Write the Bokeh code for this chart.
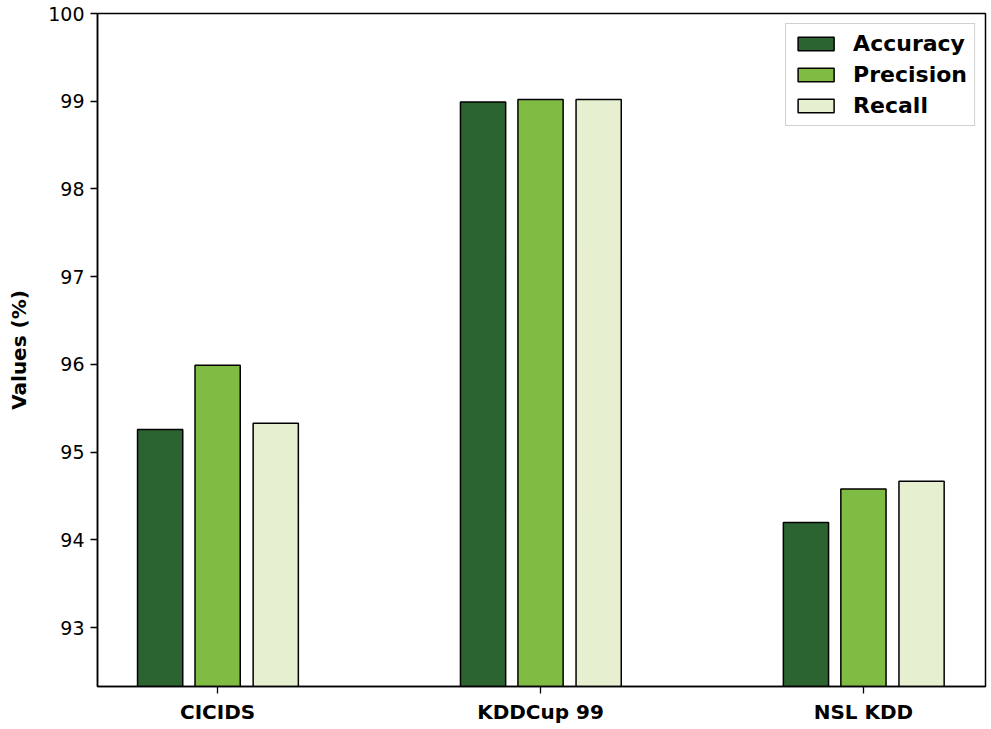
from bokeh.plotting import figure
from bokeh.models import ColumnDataSource, Range1d, FixedTicker, Legend, LegendItem
from bokeh.transform import dodge
from bokeh.embed import file_html
from bokeh.resources import INLINE

categories = ["CICIDS", "KDDCup 99", "NSL KDD"]
accuracy = [95.26, 98.99, 94.20]
precision = [95.99, 99.02, 94.58]
recall = [95.33, 99.02, 94.67]
series_names = ["Accuracy", "Precision", "Recall"]
colors = ["#2b6331", "#80bb44", "#e6f0d0"]
y_ticks = [93, 94, 95, 96, 97, 98, 99, 100]

xs = list(range(len(categories)))
source = ColumnDataSource(dict(x=xs, accuracy=accuracy, precision=precision, recall=recall))

p = figure(width=988, height=726, output_backend="svg", toolbar_location=None,
           x_range=Range1d(-0.372, 2.378), y_range=Range1d(92.33, 100.0),
           min_border_left=97, min_border_right=3, min_border_top=13, min_border_bottom=40)

offsets = [-0.178, 0.0, 0.18]
fields = ["accuracy", "precision", "recall"]
renderers = []
for f, off, c in zip(fields, offsets, colors):
    r = p.vbar(x=dodge("x", off, range=p.x_range), top=f, bottom=0, width=0.14,
               source=source, fill_color=c, line_color="black", line_width=1.5)
    renderers.append(r)

legend = Legend(items=[LegendItem(label=n, renderers=[r]) for n, r in zip(series_names, renderers)],
                location="top_right")
legend.label_text_font = "DejaVu Sans"
legend.label_text_font_style = "bold"
legend.label_text_font_size = "22px"
legend.label_text_color = "black"
legend.label_standoff = 15
legend.glyph_width = 45
legend.glyph_height = 17
legend.spacing = 6
legend.padding = 7
legend.margin = 10
legend.border_line_color = "#d0d0d0"
legend.border_line_width = 1
legend.border_line_alpha = 1
legend.background_fill_alpha = 1
p.add_layout(legend)

p.xgrid.visible = False
p.ygrid.visible = False
p.outline_line_color = "black"
p.outline_line_width = 1.5

p.xaxis.ticker = FixedTicker(ticks=xs)
p.xaxis.major_label_overrides = {i: c for i, c in enumerate(categories)}
p.xaxis.major_label_text_font = "DejaVu Sans"
p.xaxis.major_label_text_font_style = "bold"
p.xaxis.major_label_text_font_size = "20px"
p.xaxis.major_label_text_color = "black"

p.yaxis.ticker = FixedTicker(ticks=y_ticks)
p.yaxis.major_label_text_font = "DejaVu Sans"
p.yaxis.major_label_text_font_size = "19px"
p.yaxis.major_label_text_color = "black"
p.yaxis.axis_label = "Values (%)"
p.yaxis.axis_label_text_font = "DejaVu Sans"
p.yaxis.axis_label_text_font_style = "bold"
p.yaxis.axis_label_text_font_size = "20px"
p.yaxis.axis_label_text_color = "black"
p.yaxis.axis_label_standoff = 14

for ax in (p.xaxis, p.yaxis):
    ax.minor_tick_line_color = None
    ax.major_tick_in = 0
    ax.major_tick_out = 7
    ax.major_tick_line_color = "black"
    ax.major_tick_line_width = 1.3
    ax.axis_line_color = "black"
    ax.axis_line_width = 1.5
    ax.major_label_standoff = 6

open("out.html", "w").write(file_html(p, INLINE))
